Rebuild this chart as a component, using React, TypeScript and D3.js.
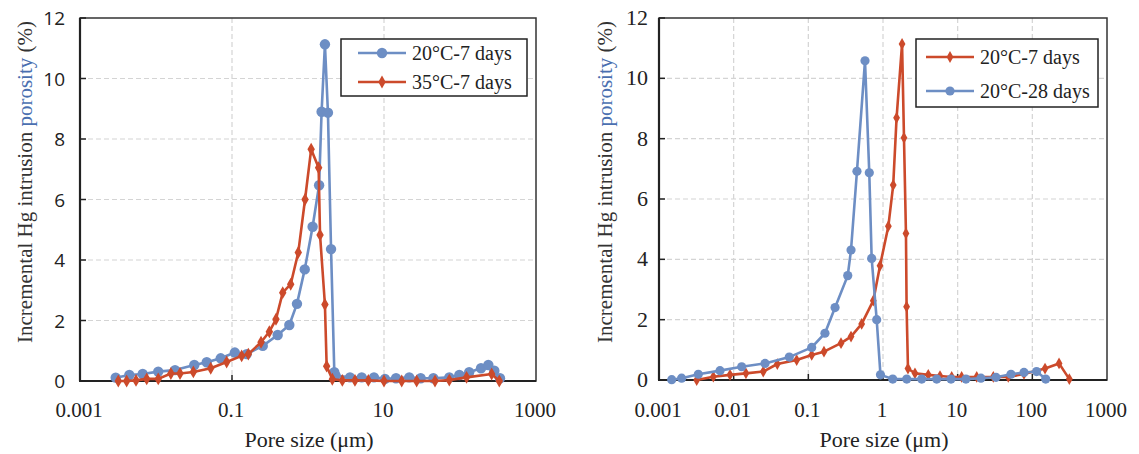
import { useEffect, useRef } from 'react';
import * as d3 from 'd3';

// left panel: 20°C-7 days (blue) vs 35°C-7 days (red)
const leftBlueSize = [0.00295, 0.00446, 0.00668, 0.0107, 0.0178, 0.0319, 0.0465, 0.071, 0.109, 0.156, 0.254, 0.399, 0.568, 0.716, 0.906, 1.15, 1.40, 1.51, 1.67, 1.83, 2.01, 2.22, 2.31, 3.57, 5.09, 7.38, 10.3, 14.4, 21.5, 30.4, 44.6, 72.3, 98, 132, 189, 236, 283, 336];
const leftBlueVal = [0.11, 0.2, 0.23, 0.31, 0.36, 0.53, 0.62, 0.75, 0.94, 0.89, 1.16, 1.52, 1.85, 2.55, 3.69, 5.1, 6.47, 8.9, 11.13, 8.87, 4.36, 0.29, 0.18, 0.12, 0.12, 0.12, 0.07, 0.09, 0.12, 0.09, 0.09, 0.12, 0.2, 0.29, 0.42, 0.53, 0.34, 0.09];
const leftRedSize = [0.00319, 0.00411, 0.00546, 0.00755, 0.0107, 0.0157, 0.0207, 0.031, 0.0525, 0.0851, 0.134, 0.164, 0.241, 0.31, 0.379, 0.465, 0.592, 0.745, 0.914, 1.10, 1.38, 1.44, 1.67, 1.76, 2.09, 2.83, 4.15, 6.22, 10, 17.1, 26.9, 46.9, 72.3, 122, 261, 329];
const leftRedVal = [0, 0, 0.02, 0.07, 0.07, 0.25, 0.25, 0.3, 0.42, 0.63, 0.83, 0.89, 1.28, 1.63, 2.04, 2.92, 3.2, 4.25, 6.0, 7.66, 7.05, 4.83, 2.53, 0.49, 0.06, 0.02, 0.02, 0.02, 0, 0, 0, 0, 0.03, 0.12, 0.23, 0];

// right panel: 20°C-7 days (red) vs 20°C-28 days (blue)
const rightRedSize = [0.0032, 0.00534, 0.00893, 0.0146, 0.0249, 0.0384, 0.0698, 0.111, 0.162, 0.274, 0.373, 0.518, 0.741, 0.912, 1.18, 1.37, 1.52, 1.80, 1.91, 2.03, 2.07, 2.16, 2.68, 4.04, 5.8, 8.32, 11.3, 18, 30, 47.6, 77.3, 148, 228, 313];
const rightRedVal = [0, 0.11, 0.17, 0.22, 0.28, 0.53, 0.66, 0.83, 0.94, 1.22, 1.44, 1.86, 2.63, 3.79, 5.1, 6.46, 8.69, 11.14, 8.03, 4.86, 2.43, 0.38, 0.22, 0.17, 0.13, 0.1, 0.1, 0.1, 0.1, 0.1, 0.2, 0.38, 0.55, 0.03];
const rightBlueSize = [0.00148, 0.00201, 0.00336, 0.00656, 0.0128, 0.0263, 0.0556, 0.111, 0.167, 0.228, 0.337, 0.373, 0.448, 0.574, 0.655, 0.705, 0.823, 0.925, 1.35, 2.08, 3.3, 5.24, 8.14, 12.9, 20.5, 32.6, 51.8, 77.3, 114, 151];
const rightBlueVal = [0.01, 0.06, 0.19, 0.31, 0.44, 0.55, 0.76, 1.08, 1.55, 2.4, 3.46, 4.31, 6.92, 10.58, 6.87, 4.03, 2.0, 0.17, 0.03, 0.03, 0.03, 0.03, 0.03, 0.03, 0.06, 0.09, 0.19, 0.25, 0.28, 0.03];

const yTicks = [0, 2, 4, 6, 8, 10, 12];
const leftXTicks = [0.001, 0.1, 10, 1000];
const leftXLabels = ['0.001', '0.1', '10', '1000'];
const rightXTicks = [0.001, 0.01, 0.1, 1, 10, 100, 1000];
const rightXLabels = ['0.001', '0.01', '0.1', '1', '10', '100', '1000'];

const BLUE = '#6d8ec4';
const RED = '#cc4a2b';
const SERIF = '"Liberation Serif", "Times New Roman", serif';
const SANS = '"Open Sans", "Liberation Sans", sans-serif';

const App = () => {
    const svgRef = useRef(null);

    useEffect(() => {
        const svg = d3.select(svgRef.current);
        svg.selectAll('*').remove();

        const drawPanel = (cfg) => {
            const x = d3.scaleLog().domain([0.001, 1000]).range([cfg.left, cfg.right]);
            const y = d3.scaleLinear().domain([0, 12]).range([cfg.bottom, cfg.top]);
            const g = svg.append('g');

            //grid
            g.selectAll('.hgrid').data(yTicks.filter(t => t > 0 && t < 12)).enter()
                .append('line')
                .attr('x1', cfg.left).attr('x2', cfg.right)
                .attr('y1', d => y(d)).attr('y2', d => y(d))
                .attr('stroke', '#d4d4d4').attr('stroke-width', 1.2).attr('stroke-dasharray', '5,3');
            g.selectAll('.vgrid').data(cfg.xTicks.slice(1, -1)).enter()
                .append('line')
                .attr('x1', d => x(d)).attr('x2', d => x(d))
                .attr('y1', cfg.top).attr('y2', cfg.bottom)
                .attr('stroke', '#d4d4d4').attr('stroke-width', 1.2).attr('stroke-dasharray', '5,3');

            //frame
            g.append('rect')
                .attr('x', cfg.left).attr('y', cfg.top)
                .attr('width', cfg.right - cfg.left).attr('height', cfg.bottom - cfg.top)
                .attr('fill', 'none').attr('stroke', '#333').attr('stroke-width', 1.5);
            g.append('line').attr('x1', cfg.left).attr('x2', cfg.left).attr('y1', cfg.top).attr('y2', cfg.bottom)
                .attr('stroke', '#222').attr('stroke-width', 2.2);
            g.append('line').attr('x1', cfg.left - 1).attr('x2', cfg.right).attr('y1', cfg.bottom).attr('y2', cfg.bottom)
                .attr('stroke', '#222').attr('stroke-width', 2.2);

            //ticks
            g.selectAll('.yt').data(yTicks).enter().append('line')
                .attr('x1', cfg.left).attr('x2', cfg.left + 6)
                .attr('y1', d => y(d)).attr('y2', d => y(d))
                .attr('stroke', '#222').attr('stroke-width', 1.5);
            g.selectAll('.xt').data(cfg.xTicks.slice(1, -1)).enter().append('line')
                .attr('x1', d => x(d)).attr('x2', d => x(d))
                .attr('y1', cfg.bottom).attr('y2', cfg.bottom - 6)
                .attr('stroke', '#222').attr('stroke-width', 1.5);

            g.selectAll('.yl').data(yTicks).enter().append('text')
                .attr('x', cfg.left - cfg.yLabelGap).attr('y', d => y(d) + 7)
                .attr('text-anchor', 'end')
                .style('font-family', cfg.yFont).style('font-size', cfg.yFontSize).attr('fill', '#222')
                .text(d => d);
            g.selectAll('.xl').data(cfg.xTicks).enter().append('text')
                .attr('x', d => x(d) - 1).attr('y', 417)
                .attr('text-anchor', 'middle')
                .style('font-family', SERIF).style('font-size', '21px').attr('fill', '#222')
                .text((d, i) => cfg.xLabels[i]);

            //axis titles
            g.append('text')
                .attr('x', (cfg.left + cfg.right) / 2 + 1).attr('y', 447)
                .attr('text-anchor', 'middle')
                .style('font-family', SERIF).style('font-size', '22px').attr('fill', '#222')
                .text('Pore size (μm)');
            const yt = g.append('text')
                .attr('transform', `translate(${cfg.titleX}, 182) rotate(-90)`)
                .attr('text-anchor', 'middle')
                .style('font-family', SERIF).style('font-size', '21px').attr('fill', '#333');
            yt.append('tspan').text('Incremental Hg intrusion ');
            yt.append('tspan').attr('fill', '#4a6fb0').text('porosity');
            yt.append('tspan').text(' (%)');

            //series
            const line = d3.line().x(d => x(d[0])).y(d => y(d[1]));
            const diamond = d3.symbol().type(d3.symbolDiamond);
            cfg.series.forEach(s => {
                const pts = s.size.map((v, i) => [v, s.val[i]]);
                g.append('path').datum(pts).attr('d', line)
                    .attr('fill', 'none').attr('stroke', s.color).attr('stroke-width', 2.6)
                    .attr('stroke-linejoin', 'round');
                if (s.marker === 'circle') {
                    g.selectAll(null).data(pts).enter().append('circle')
                        .attr('cx', d => x(d[0])).attr('cy', d => y(d[1]))
                        .attr('r', s.r).attr('fill', s.color);
                } else {
                    g.selectAll(null).data(pts).enter().append('path')
                        .attr('transform', d => `translate(${x(d[0])},${y(d[1])})`)
                        .attr('d', diamond.size(s.r))
                        .attr('fill', s.color);
                }
            });

            //legend
            const lg = cfg.legend;
            g.append('rect').attr('x', lg.x).attr('y', lg.y).attr('width', lg.w).attr('height', lg.h)
                .attr('fill', 'white').attr('stroke', '#222').attr('stroke-width', 1.5);
            cfg.series.forEach((s, i) => {
                const ry = lg.rows[i];
                g.append('line').attr('x1', lg.x + lg.pad).attr('x2', lg.x + lg.pad + 48)
                    .attr('y1', ry).attr('y2', ry).attr('stroke', s.color).attr('stroke-width', 2.6);
                if (s.marker === 'circle') {
                    g.append('circle').attr('cx', lg.x + lg.pad + 24).attr('cy', ry).attr('r', s.r).attr('fill', s.color);
                } else {
                    g.append('path').attr('transform', `translate(${lg.x + lg.pad + 24},${ry})`)
                        .attr('d', diamond.size(s.r)).attr('fill', s.color);
                }
                g.append('text').attr('x', lg.x + lg.pad + 54).attr('y', ry + 7)
                    .style('font-family', SERIF).style('font-size', '20px').attr('fill', '#222')
                    .text(s.name);
            });
        };

        drawPanel({
            left: 80, right: 536, top: 18, bottom: 381, titleX: 32,
            xTicks: leftXTicks, xLabels: leftXLabels, yFont: SANS, yFontSize: '19px', yLabelGap: 15,
            series: [
                { name: '20°C-7 days', size: leftBlueSize, val: leftBlueVal, color: BLUE, marker: 'circle', r: 5.2 },
                { name: '35°C-7 days', size: leftRedSize, val: leftRedVal, color: RED, marker: 'diamond', r: 48 }
            ],
            legend: { x: 341, y: 39, w: 186, h: 57, rows: [53, 82], pad: 17 }
        });
        drawPanel({
            left: 659, right: 1107, top: 18, bottom: 380, titleX: 612,
            xTicks: rightXTicks, xLabels: rightXLabels, yFont: SERIF, yFontSize: '22px', yLabelGap: 11,
            series: [
                { name: '20°C-7 days', size: rightRedSize, val: rightRedVal, color: RED, marker: 'diamond', r: 40 },
                { name: '20°C-28 days', size: rightBlueSize, val: rightBlueVal, color: BLUE, marker: 'circle', r: 4.6 }
            ],
            legend: { x: 916, y: 39, w: 182, h: 68, rows: [57, 91], pad: 10 }
        });
    }, []);

    return (
        <svg ref={svgRef} width={1139} height={454}
            style={{ position: 'absolute', left: 0, top: 0, background: 'white' }}></svg>
    );
};

export default App;
